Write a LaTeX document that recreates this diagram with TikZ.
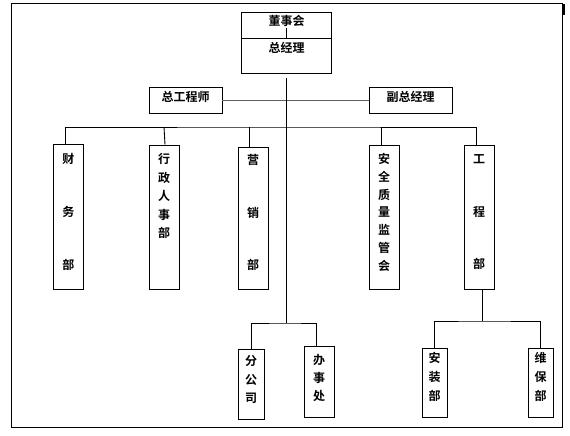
\documentclass[tikz,border=0pt]{standalone}
\usepackage{fontspec}
\newfontfamily\cjk{Noto Sans CJK SC Bold}
\usetikzlibrary{positioning}
% box text: height, width, top gap, line skip, text
\newcommand{\vtext}[5]{\parbox[c][#1][t]{#2}{\fontsize{12}{#4}\selectfont\centering\vspace*{#3}#5}}
\tikzstyle{link}  = [black, line width=.9pt]
\tikzstyle{glink} = [link, gray!75!black]
\tikzstyle{frame} = [black, line width=1pt]
\tikzset{
  basic box/.style = {
    shape = rectangle,
    draw,
    line width = .9pt,
    inner sep = 0pt,
    font = \cjk,
    },
  dept box/.style = {
    basic box,
    fill = white,
  },
}
\begin{document}
\begin{tikzpicture}[x=1pt,y=-1pt]
    \useasboundingbox (0,0) rectangle (570,436);
    \draw[frame] (11.5,3.5) rectangle (562,427);
    \draw[line width=2pt] (563.5,4) -- (563.5,15);

    % top
    \node[basic box] (dsh) at (286.5,25) {\vtext{26pt}{90pt}{3.1pt}{14pt}{董事会}};
    \node[basic box, below=0pt of dsh] (zjl) {\vtext{35pt}{90pt}{3.3pt}{14pt}{总经理}};
    \node[basic box] (zgcs) at (185.5,100) {\vtext{26pt}{73pt}{4.3pt}{14pt}{总工程师}};
    \node[basic box] (fzjl) at (410.5,100) {\vtext{26pt}{83pt}{4.3pt}{14pt}{副总经理}};

    % departments
    \node[dept box] (cw) at (68.3,216.5) {\vtext{145pt}{30pt}{9.6pt}{53pt}{财\\务\\部}};
    \node[dept box] (xz) at (164,217) {\vtext{144pt}{30pt}{8.6pt}{18.5pt}{行\\政\\人\\事\\部}};
    \node[dept box] (yx) at (253,218) {\vtext{142pt}{30pt}{7.6pt}{52.5pt}{营\\销\\部}};
    \node[dept box] (aq) at (384,217) {\vtext{144pt}{30pt}{8.6pt}{17.7pt}{安\\全\\质\\量\\监\\管\\会}};
    \node[dept box] (gc) at (479,217) {\vtext{144pt}{30pt}{9.6pt}{52.5pt}{工\\程\\部}};

    % sub units
    \node[dept box] (fgs) at (251,384) {\vtext{70pt}{26pt}{6.6pt}{18.5pt}{分\\公\\司}};
    \node[dept box] (bsc) at (319,381.5) {\vtext{71pt}{30pt}{8.6pt}{18pt}{办\\事\\处}};
    \node[dept box] (az) at (434.5,382.5) {\vtext{69pt}{25pt}{4.6pt}{19pt}{安\\装\\部}};
    \node[dept box] (wb) at (540.5,382.5) {\vtext{69pt}{25pt}{4.6pt}{19pt}{维\\保\\部}};

    \coordinate (bus) at (286.5,127);
    \coordinate (sub) at (286.5,323);
    \coordinate (gcbus) at (482,321);

    % Paths
    \draw[link] ([yshift=10pt]dsh.south) -- (zjl.north);
    \draw[glink] (zgcs.east) -- (fzjl.west);
    \draw[link] ([yshift=-4pt]zjl.south) -- (sub);

    \draw[link] ([xshift=-3pt]cw.north) |- (bus) -| ([xshift=-3pt]gc.north);
    \draw[link] ([xshift=1pt]xz.north) -- (xz.north |- bus);
    \draw[link] ([xshift=-4pt]yx.north) -- ([xshift=-4pt]yx.north |- bus);
    \draw[link] ([xshift=-3pt]aq.north) -- ([xshift=-3pt]aq.north |- bus);

    \draw[link] (fgs.north) |- (sub) -| ([xshift=-3pt]bsc.north);

    \draw[link] ([xshift=3pt]gc.south) -- (gcbus);
    \draw[link] (az.north) |- (gcbus) -| (wb.north);

\end{tikzpicture}
\end{document}
